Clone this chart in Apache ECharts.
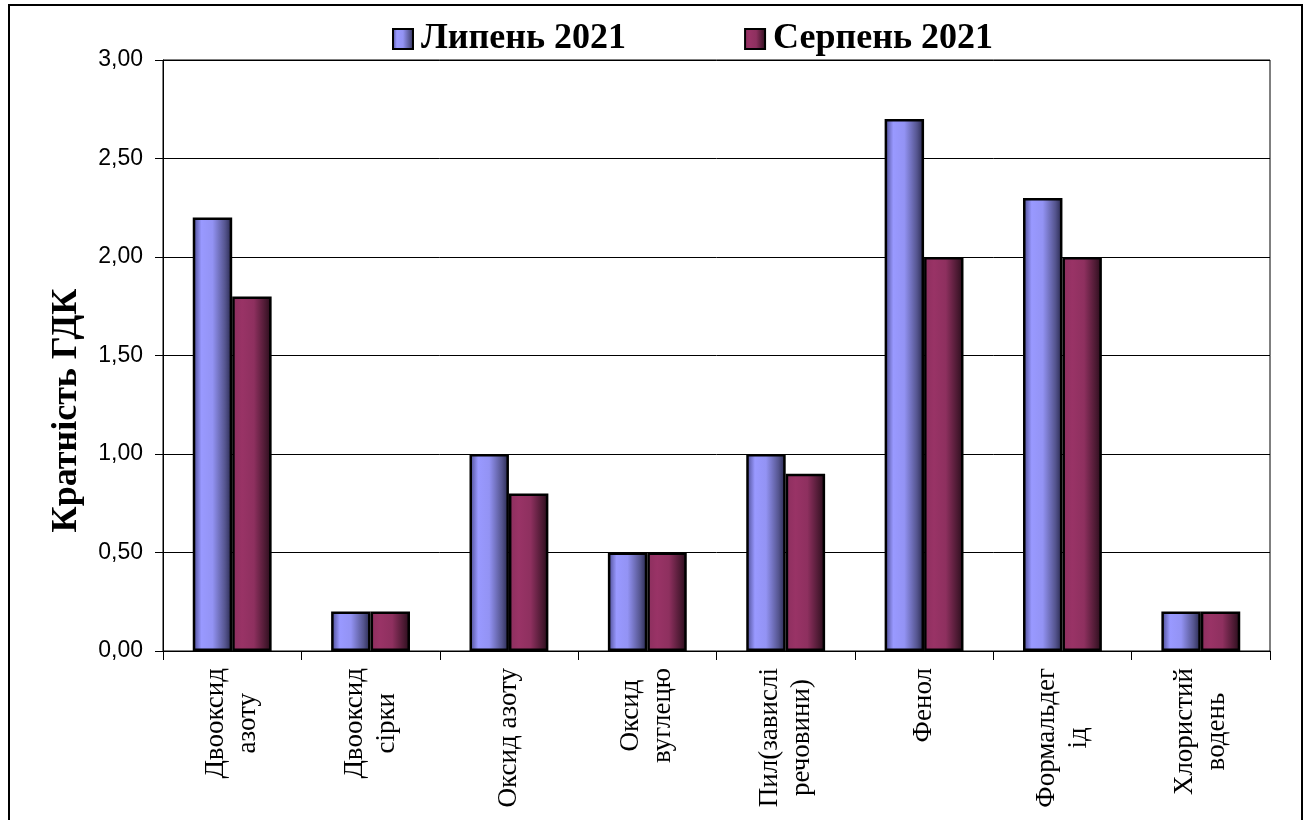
<!DOCTYPE html>
<html>
<head>
<meta charset="utf-8">
<script src="https://cdn.jsdelivr.net/npm/echarts@6/dist/echarts.min.js"></script>
<style>
html,body{margin:0;padding:0;background:#fff;}
#chart{width:1306px;height:820px;}
</style>
</head>
<body>
<div id="chart"></div>
<script>
const categories = ['Двооксид\nазоту', 'Двооксид\nсірки', 'Оксид азоту', 'Оксид\nвуглецю', 'Пил(завислі\nречовини)', 'Фенол', 'Формальдег\nід', 'Хлористий\nводень'];
const seriesNames = ['Липень 2021', 'Серпень 2021'];
const july2021 = [2.2, 0.2, 1.0, 0.5, 1.0, 2.7, 2.3, 0.2];
const august2021 = [1.8, 0.2, 0.8, 0.5, 0.9, 2.0, 2.0, 0.2];
const yAxisTitle = 'Кратність ГДК';

const blueGrad = new echarts.graphic.LinearGradient(0, 0, 1, 0, [
  {offset: 0, color: '#46468a'},
  {offset: 0.22, color: '#9999ff'},
  {offset: 0.5, color: '#9393f4'},
  {offset: 0.82, color: '#55558f'},
  {offset: 1, color: '#25254a'}
]);
const redGrad = new echarts.graphic.LinearGradient(0, 0, 1, 0, [
  {offset: 0, color: '#8c2f5e'},
  {offset: 0.25, color: '#993366'},
  {offset: 0.55, color: '#8e305f'},
  {offset: 0.85, color: '#4a1931'},
  {offset: 1, color: '#260c19'}
]);

const chart = echarts.init(document.getElementById('chart'));
chart.setOption({
  backgroundColor: '#ffffff',
  animation: false,
  graphic: [{
    type: 'rect',
    shape: {x: 9, y: 5, width: 1293, height: 840},
    style: {fill: 'none', stroke: '#000', lineWidth: 2},
    silent: true
  }],
  legend: {
    left: 387,
    top: 16,
    icon: 'rect',
    itemWidth: 20,
    itemHeight: 20,
    itemGap: 118,
    textStyle: {
      fontFamily: 'Liberation Serif',
      fontWeight: 'bold',
      fontSize: 36,
      color: '#000',
      padding: [0, 0, 0, 3]
    },
    data: seriesNames
  },
  grid: {
    left: 163,
    right: 36,
    top: 60,
    bottom: 169,
    show: true,
    borderColor: '#000',
    borderWidth: 1,
    containLabel: false
  },
  xAxis: {
    type: 'category',
    data: categories,
    axisLine: {lineStyle: {color: '#000', width: 1}},
    axisTick: {show: true, length: 9, lineStyle: {color: '#000'}},
    axisLabel: {
      interval: 0,
      rotate: 90,
      margin: 17,
      color: '#000',
      fontFamily: 'Liberation Serif',
      fontSize: 27,
      lineHeight: 32,
      formatter: function (v) {
        return v.split('\n').map(function (s) { return '{a|' + s + '}'; }).join('\n');
      },
      rich: {
        a: {
          align: 'center',
          fontFamily: 'Liberation Serif',
          fontSize: 27,
          lineHeight: 32,
          color: '#000'
        }
      }
    }
  },
  yAxis: {
    type: 'value',
    min: 0,
    max: 3,
    interval: 0.5,
    name: yAxisTitle,
    nameLocation: 'middle',
    nameGap: 78,
    nameTextStyle: {
      fontFamily: 'Liberation Serif',
      fontWeight: 'bold',
      fontSize: 36,
      color: '#000',
      padding: [0, 110, 0, 0]
    },
    axisLine: {show: true, lineStyle: {color: '#000', width: 1}},
    axisTick: {show: true, length: 8, lineStyle: {color: '#000'}},
    splitLine: {show: true, lineStyle: {color: '#000', width: 1}},
    axisLabel: {
      margin: 20,
      color: '#000',
      fontFamily: 'Liberation Sans',
      fontSize: 23,
      formatter: function (v) { return v.toFixed(2).replace('.', ','); }
    }
  },
  series: [{
    name: seriesNames[0],
    type: 'bar',
    data: july2021,
    barGap: '0%',
    barCategoryGap: '43%',
    itemStyle: {color: blueGrad, borderColor: '#000', borderWidth: 2.5}
  }, {
    name: seriesNames[1],
    type: 'bar',
    data: august2021,
    barGap: '0%',
    barCategoryGap: '43%',
    itemStyle: {color: redGrad, borderColor: '#000', borderWidth: 2.5}
  }]
});
</script>
</body>
</html>
